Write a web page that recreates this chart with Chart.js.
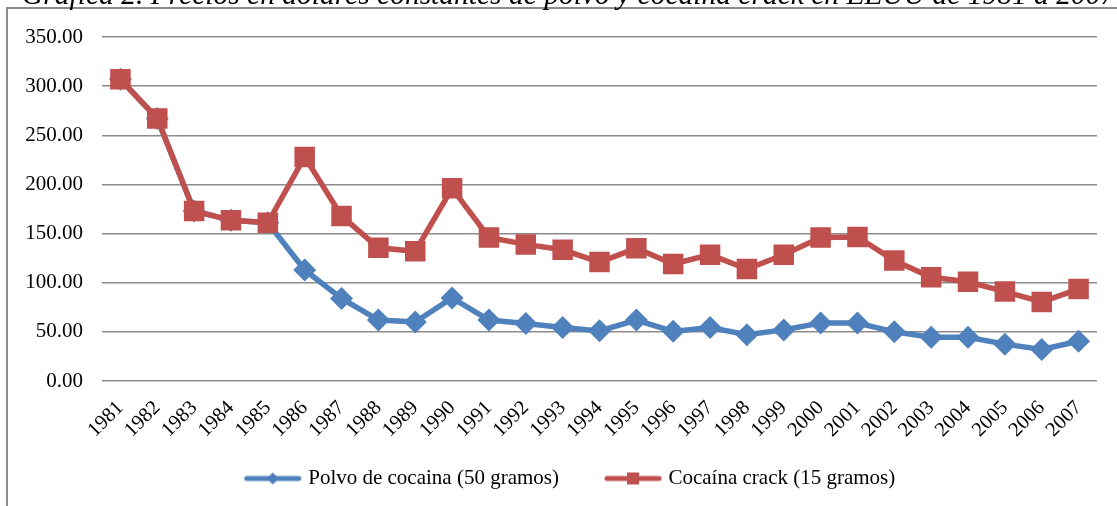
<!DOCTYPE html>
<html>
<head>
<meta charset="utf-8">
<script src="https://cdn.jsdelivr.net/npm/chart.js@4"></script>
<style>
  body { margin: 0; background: #fff; }
  #wrap { position: relative; width: 1117px; height: 506px; overflow: hidden; }
  #frame { position: absolute; left: 6px; top: 7px; width: 1200px; height: 600px; border: 2px solid #8c8c8c; }
  #title { position: absolute; left: 22px; top: -20px; white-space: nowrap; font: italic 29.5px/29.5px "Liberation Serif", serif; color: #000; }
  #myLineChart { position: absolute; left: 0; top: 0; }
</style>
</head>
<body>
<div id="wrap">
  <div id="frame"></div>
  <canvas id="myLineChart" width="1117" height="506"></canvas>
  <div id="title">Gráfica 2. Precios en dólares constantes de polvo y cocaína crack en EEUU de 1981 a 2007</div>
</div>
<script>
const years = [
	'1981', '1982', '1983', '1984', '1985', '1986', '1987', '1988', '1989',
	'1990', '1991', '1992', '1993', '1994', '1995', '1996', '1997', '1998',
	'1999', '2000', '2001', '2002', '2003', '2004', '2005', '2006', '2007',
];

const polvo = [307, 267, 173, 163.5, 161, 113, 84, 62, 60, 84.5, 62, 58.5, 54.5, 51, 62, 50.5, 54.5, 47, 52, 59, 59, 50, 44.5, 44.5, 37.5, 32, 40.5];
const crack = [307, 267, 173, 163.5, 161, 228, 168, 135.5, 132, 196, 146, 139, 133.5, 121, 135, 119, 128.5, 114, 128.5, 146, 146.5, 122.5, 105.5, 101, 91, 80.5, 93.5];

const blue = '#4F81BD';
const red = '#C0504D';
const font = '"Liberation Serif", "Times New Roman", serif';

// little line + marker swatch for the legend, like the spreadsheet legend
function swatch(color, shape) {
	const c = document.createElement('canvas');
	c.width = 106;
	c.height = 16;
	const ctx = c.getContext('2d');
	ctx.strokeStyle = color;
	ctx.fillStyle = color;
	ctx.lineWidth = 5;
	ctx.lineCap = 'round';
	ctx.beginPath();
	ctx.moveTo(50, 8);
	ctx.lineTo(102, 8);
	ctx.stroke();
	ctx.beginPath();
	if (shape === 'diamond') {
		ctx.moveTo(76, 2);
		ctx.lineTo(82, 8);
		ctx.lineTo(76, 14);
		ctx.lineTo(70, 8);
	} else {
		ctx.rect(70, 2, 12, 12);
	}
	ctx.fill();
	return c;
}

const swatches = [swatch(blue, 'diamond'), swatch(red, 'square')];

const data = {
	labels: years,
	datasets: [{
		label: 'Polvo de cocaina (50 gramos)',
		data: polvo,
		borderColor: blue,
		backgroundColor: blue,
		borderWidth: 5.5,
		pointStyle: 'rectRot',
		pointRadius: 11.5,
		pointBorderWidth: 0,
		order: 2,
	}, {
		label: 'Cocaína crack (15 gramos)',
		data: crack,
		borderColor: red,
		backgroundColor: red,
		borderWidth: 5.5,
		pointStyle: 'rect',
		pointRadius: 14.5,
		pointBorderWidth: 0,
		order: 1,
	}]
};

const config = {
	type: 'line',
	data: data,
	options: {
		responsive: false,
		animation: false,
		layout: {
			padding: { top: 37, right: 20, bottom: 7, left: 0 },
		},
		scales: {
			x: {
				offset: true,
				grid: { display: false },
				border: { display: false },
				ticks: {
					autoSkip: false,
					minRotation: 45,
					maxRotation: 45,
					padding: 7,
					color: '#000',
					font: { family: font, size: 20.5 },
				},
				afterFit: (scale) => { scale.height = 84; },
			},
			y: {
				min: 0,
				max: 350,
				border: { display: false },
				grid: { color: '#8c8c8c', lineWidth: 1.5, drawTicks: false },
				ticks: {
					stepSize: 50,
					padding: 19,
					color: '#000',
					font: { family: font, size: 21 },
					callback: (v) => v.toFixed(2),
				},
				afterFit: (scale) => { scale.width = 102; },
			},
		},
		plugins: {
			legend: {
				position: 'bottom',
				labels: {
					usePointStyle: true,
					pointStyleWidth: 96,
					padding: 3,
					color: '#000',
					font: { family: font, size: 21 },
					generateLabels: (chart) => chart.data.datasets.map((ds, i) => ({
						text: ds.label,
						pointStyle: swatches[i],
						fillStyle: ds.borderColor,
						strokeStyle: ds.borderColor,
						lineWidth: 0,
						hidden: false,
						datasetIndex: i,
						fontColor: '#000',
					})),
				},
			},
			tooltip: { enabled: false },
		},
	},
};

const myLineChart = new Chart(
	document.getElementById('myLineChart'),
	config
);
</script>
</body>
</html>
